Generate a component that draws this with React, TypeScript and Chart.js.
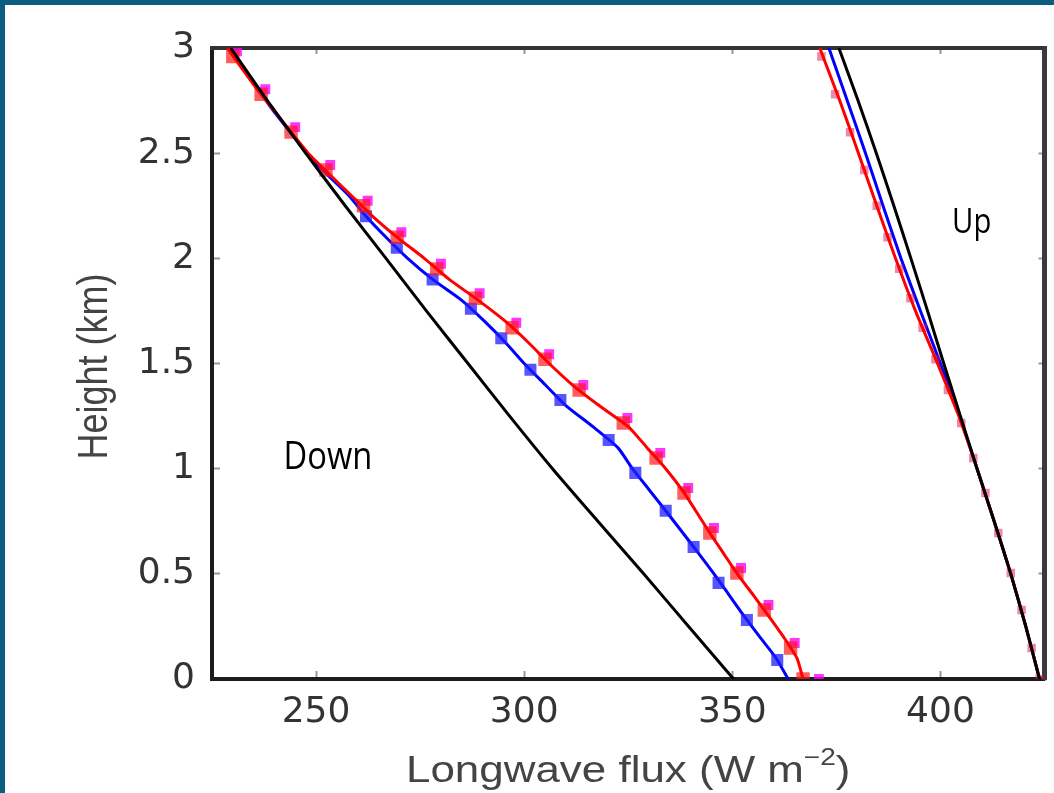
import React, { useEffect, useRef } from "react";
import { Chart, registerables } from "chart.js";

Chart.register(...registerables);

// ---------- data (heights in km, flux in W m-2) ----------
const xTickValues = [250, 300, 350, 400];
const yTickValues = [0, 0.5, 1, 1.5, 2, 2.5, 3];

const blackDownHeights = [0, 0.25, 0.5, 0.75, 1, 1.25, 1.5, 1.75, 2, 2.25, 2.5, 2.75, 3];
const blackDownFlux = [350.3, 339.5, 328.7, 317.7, 306.8, 296.5, 286.5, 276.5, 266.8, 257.0, 247.5, 238.3, 229.5];

const modelDownHeights = [0, 0.1, 0.2, 0.3, 0.4, 0.5, 0.6, 0.7, 0.8, 0.9, 1.0, 1.1, 1.2, 1.3, 1.4, 1.5, 1.6, 1.7, 1.8, 1.9, 2.0, 2.1, 2.2, 2.3, 2.4, 2.5, 2.6, 2.7, 2.8, 2.9, 3.0];
const blueDownFlux = [363.4, 360.5, 356.6, 352.8, 349.2, 345.6, 341.8, 337.9, 334.0, 330.0, 326.0, 322.5, 316.5, 310.0, 305.0, 300.0, 295.5, 290.5, 285.0, 278.0, 272.0, 266.8, 262.0, 257.8, 252.6, 247.8, 243.8, 239.8, 236.2, 232.7, 229.3];
const redDownFlux = [367.0, 365.5, 362.3, 358.7, 355.0, 351.2, 347.8, 344.4, 341.2, 337.9, 334.0, 329.5, 325.0, 318.0, 311.5, 306.0, 301.0, 295.5, 289.0, 282.0, 276.0, 269.5, 263.6, 258.4, 253.2, 248.1, 244.0, 240.0, 236.0, 232.3, 228.7];

const upHeights = [0, 0.25, 0.5, 0.75, 1, 1.25, 1.5, 1.75, 2, 2.25, 2.5, 2.75, 3];
const blackUpFlux = [423.8, 420.5, 416.9, 412.9, 408.8, 404.8, 400.8, 396.9, 392.9, 388.8, 384.6, 380.2, 375.6];
const blueUpFlux = [423.8, 420.5, 416.9, 412.9, 408.8, 404.6, 400.0, 395.2, 390.5, 386.2, 382.0, 377.6, 373.2];
const redUpFlux = [423.8, 420.5, 416.9, 412.9, 408.8, 404.4, 399.3, 394.0, 389.2, 384.7, 380.3, 375.8, 371.0];

// observation levels (markers)
const redMarkHeights = [0, 0.147, 0.328, 0.504, 0.694, 0.884, 1.051, 1.217, 1.374, 1.52, 1.67, 1.81, 1.95, 2.10, 2.25, 2.42, 2.60, 2.78, 2.96];
const redDownMarks = [367.0, 364.0, 357.7, 351.1, 344.6, 338.4, 331.7, 323.8, 313.2, 305.0, 297.1, 288.3, 279.0, 269.5, 261.4, 252.4, 244.0, 236.8, 230.0];
const magentaHeights = [0, 0.171, 0.352, 0.528, 0.718, 0.908, 1.075, 1.241, 1.398, 1.544, 1.694, 1.834, 1.974, 2.124, 2.274, 2.444, 2.624, 2.804, 2.984];
const magentaDownMarks = [370.8, 365.0, 358.7, 352.1, 345.6, 339.4, 332.7, 324.8, 314.2, 306.0, 298.1, 289.3, 280.0, 270.5, 262.4, 253.4, 245.0, 237.8, 231.0];
const blueMarkHeights = [0.09, 0.281, 0.457, 0.628, 0.80, 0.98, 1.136, 1.327, 1.47, 1.62, 1.76, 1.90, 2.05, 2.20];
const blueDownMarks = [360.8, 353.5, 346.7, 340.7, 334.0, 326.7, 320.3, 308.7, 301.5, 294.5, 287.2, 278.0, 269.4, 262.0];
const redUpMarks = [423.8, 421.9, 419.5, 416.9, 413.9, 410.8, 407.9, 405.0, 401.8, 398.8, 395.7, 392.8, 390.1, 387.3, 384.7, 381.7, 378.3, 374.7, 371.4];

const xTitle = "Longwave flux (W m";
const xTitleSup = "\u22122";
const xTitleEnd = ")";
const yTitle = "Height (km)";
const labelDown = { text: "Down", x: 242.2, y: 1.0 };
const labelUp = { text: "Up", x: 402.8, y: 2.12 };

const pts = (xs: number[], ys: number[]) => xs.map((v, i) => ({ x: v, y: ys[i] }));

const titlesPlugin = {
  id: "titles",
  afterDraw(chart: any) {
    const { ctx, chartArea } = chart;
    const sx = 1.22;
    ctx.save();
    ctx.fillStyle = "#444";
    ctx.textBaseline = "alphabetic";
    ctx.textAlign = "left";
    const big = '36px "Liberation Sans", Arial, sans-serif';
    const small = '23px "Liberation Sans", Arial, sans-serif';
    ctx.font = big;
    const w1 = ctx.measureText(xTitle).width;
    const w3 = ctx.measureText(xTitleEnd).width;
    ctx.font = small;
    const w2 = ctx.measureText(xTitleSup).width;
    const total = (w1 + w2 + w3) * sx;
    const cx = (chartArea.left + chartArea.right) / 2;
    const base = chartArea.bottom + 103;
    ctx.save();
    ctx.translate(cx - total / 2, base);
    ctx.scale(sx, 1);
    ctx.font = big;
    ctx.fillText(xTitle, 0, 0);
    ctx.font = small;
    ctx.fillText(xTitleSup, w1, -17);
    ctx.font = big;
    ctx.fillText(xTitleEnd, w1 + w2, 0);
    ctx.restore();
    ctx.save();
    ctx.font = big;
    const wy = ctx.measureText(yTitle).width;
    const cy = (chartArea.top + chartArea.bottom) / 2 + 3;
    ctx.translate(chartArea.left - 105, cy);
    ctx.rotate(-Math.PI / 2);
    ctx.scale(1, 1.19);
    ctx.fillText(yTitle, -wy / 2, 0);
    ctx.restore();
    ctx.restore();
  },
  afterDatasetsDraw(chart: any) {
    const { ctx, scales } = chart;
    ctx.save();
    ctx.fillStyle = "#000";
    ctx.textBaseline = "alphabetic";
    ctx.textAlign = "left";
    const draw = (lab: any, size: number, sxs: number) => {
      ctx.save();
      ctx.font = `${size}px "Open Sans", sans-serif`;
      ctx.translate(scales.x.getPixelForValue(lab.x), scales.y.getPixelForValue(lab.y));
      ctx.scale(sxs, 1);
      ctx.fillText(lab.text, 0, 0);
      ctx.restore();
    };
    draw(labelDown, 38, 0.86);
    draw(labelUp, 34, 0.86);
    ctx.restore();
  },
};

export default function App() {
  const ref = useRef<HTMLCanvasElement | null>(null);
  useEffect(() => {
    if (!ref.current) return;
    const tickFont = { family: '"DejaVu Sans", sans-serif', size: 36 };
    const line = (data: any, color: string, order: number) => ({
      type: "line" as const,
      data,
      borderColor: color,
      borderWidth: 3,
      pointRadius: 0,
      showLine: true,
      tension: 0.2,
      order,
    });
    const marks = (data: any, color: string, r: number, order: number) => ({
      type: "scatter" as const,
      data,
      backgroundColor: color,
      borderWidth: 0,
      pointStyle: "rect",
      pointRadius: r,
      showLine: false,
      order,
    });
    const chart = new Chart(ref.current, {
      type: "scatter",
      data: {
        datasets: [
          line(pts(blackDownFlux, blackDownHeights), "#000000", 0),
          line(pts(blackUpFlux, upHeights), "#000000", 0),
          line(pts(redDownFlux, modelDownHeights), "#ff0000", 1),
          marks(pts(redDownMarks, redMarkHeights), "rgba(255,25,25,0.7)", 9.5, 2),
          marks(pts(magentaDownMarks, magentaHeights), "rgba(255,0,255,0.8)", 7, 3),
          line(pts(redUpFlux, upHeights), "#ff0000", 1),
          marks(pts(redUpMarks, redMarkHeights), "rgba(220,20,80,0.5)", 6, 2),
          marks(pts(blueDownMarks, blueMarkHeights), "rgba(30,30,255,0.75)", 8.5, 4),
          line(pts(blueDownFlux, modelDownHeights), "#0000ff", 5),
          line(pts(blueUpFlux, upHeights), "#0000ff", 5),
        ] as any,
      },
      options: {
        responsive: false,
        animation: false,
        events: [],
        layout: { padding: { left: 0, right: 4, top: 48, bottom: 0 } },
        plugins: { legend: { display: false }, tooltip: { enabled: false }, title: { display: false } },
        scales: {
          x: {
            type: "linear",
            position: "bottom",
            min: 225,
            max: 425,
            afterFit: (s: any) => { s.height = 114; },
            afterBuildTicks: (s: any) => { s.ticks = xTickValues.map((v) => ({ value: v })); },
            ticks: { font: tickFont, color: "#333", padding: 20, maxRotation: 0, callback: (v: any) => String(v) },
            grid: { drawOnChartArea: false, drawTicks: true, tickLength: -8, tickColor: "#999", tickWidth: 2 },
            border: { color: "#1c1c1c", width: 4 },
          },
          y: {
            type: "linear",
            position: "left",
            min: 0,
            max: 3,
            afterFit: (s: any) => { s.width = 212; },
            afterBuildTicks: (s: any) => { s.ticks = yTickValues.map((v) => ({ value: v })); },
            ticks: { font: tickFont, color: "#333", padding: 25, callback: (v: any) => String(v) },
            grid: { drawOnChartArea: false, drawTicks: true, tickLength: -8, tickColor: "#999", tickWidth: 2 },
            border: { color: "#1c1c1c", width: 4 },
          },
          x2: {
            type: "linear",
            position: "top",
            min: 225,
            max: 425,
            afterFit: (s: any) => { s.height = 0; },
            afterBuildTicks: (s: any) => { s.ticks = xTickValues.map((v) => ({ value: v })); },
            ticks: { display: false },
            grid: { drawOnChartArea: false, drawTicks: true, tickLength: -6, tickColor: "#999", tickWidth: 2 },
            border: { color: "#333", width: 4 },
          },
          y2: {
            type: "linear",
            position: "right",
            min: 0,
            max: 3,
            afterFit: (s: any) => { s.width = 0; },
            afterBuildTicks: (s: any) => { s.ticks = yTickValues.map((v) => ({ value: v })); },
            ticks: { display: false },
            grid: { drawOnChartArea: false, drawTicks: true, tickLength: -6, tickColor: "#999", tickWidth: 2 },
            border: { color: "#3a3a3a", width: 5 },
          },
        },
      } as any,
      plugins: [titlesPlugin],
    });
    return () => chart.destroy();
  }, []);

  return (
    <div
      style={{
        position: "fixed",
        left: 0,
        top: 0,
        width: 1054,
        height: 793,
        boxSizing: "border-box",
        background: "#fff",
        borderLeft: "5px solid #0b5e7e",
        borderTop: "5px solid #0b5e7e",
        overflow: "hidden",
      }}
    >
      <canvas
        ref={ref}
        width={1054}
        height={793}
        style={{ position: "absolute", left: -5, top: -5, width: 1054, height: 793 }}
      />
    </div>
  );
}
